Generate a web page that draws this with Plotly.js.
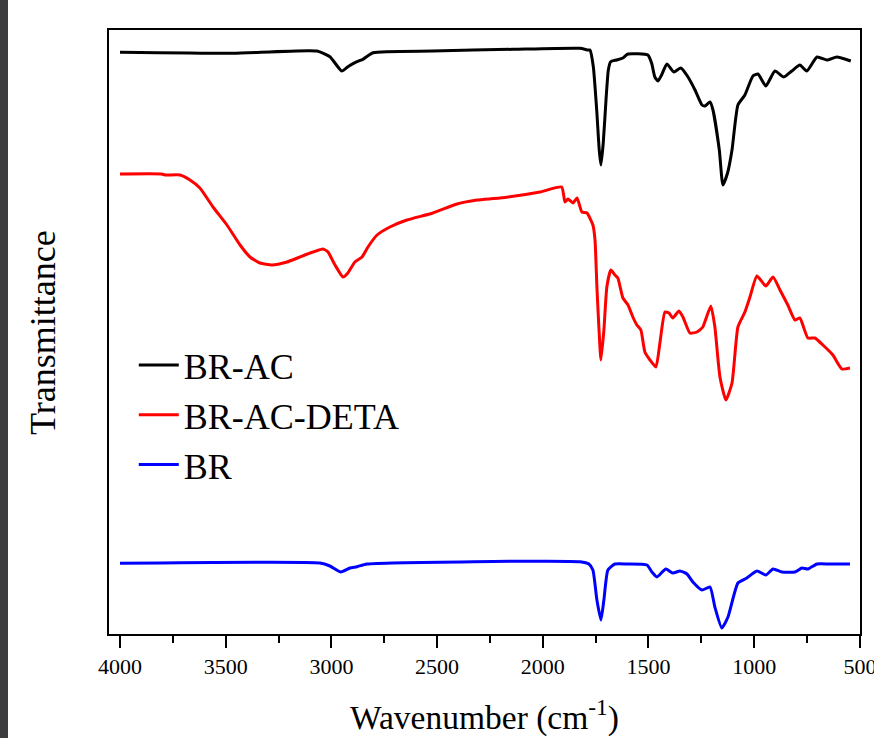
<!DOCTYPE html>
<html>
<head>
<meta charset="utf-8">
<script src="https://cdn.plot.ly/plotly-3.0.1.min.js"></script>
<style>
  html, body { margin: 0; padding: 0; background: #ffffff; overflow: hidden; }
  #strip { position: absolute; left: 0; top: 0; width: 8px; height: 738px; background: #3d3d40; z-index: 5; }
  #chart { width: 874px; height: 738px; }
</style>
</head>
<body>
<div id="strip"></div>
<div id="chart"></div>
<script>
// Wavenumbers (cm^-1) and transmittance (arbitrary offset units)
const brAcX = [4000, 3466, 3068, 3007, 2951, 2922, 2879, 2851, 2803, 2520, 2141, 1824, 1786, 1777, 1761, 1745, 1733, 1725, 1714, 1701, 1690, 1679, 1651, 1621, 1597, 1503, 1485, 1470, 1455, 1438, 1413, 1380, 1347, 1313, 1280, 1247, 1233, 1209, 1195, 1165, 1148, 1126, 1105, 1077, 1044, 1006, 982, 945, 902, 860, 822, 784, 751, 703, 656, 609, 543];
const brAcY = [581.7, 580.7, 583, 577.3, 563, 567.3, 572.3, 574.7, 581.3, 583, 584.7, 585.7, 584, 584, 567.3, 524, 484, 469, 491, 534, 564, 572.3, 574, 576, 580, 579, 570.7, 557, 553, 559, 570, 562, 566, 557, 544, 529, 528, 532, 524, 484, 449, 461, 484, 529, 539, 558, 560, 548, 563, 557, 563, 569, 563, 577, 574, 577, 573];

const brAcDetaX = [4000, 3803, 3787, 3716, 3669, 3622, 3560, 3494, 3432, 3385, 3338, 3281, 3210, 3149, 3087, 3040, 3016, 2983, 2945, 2922, 2889, 2855, 2827, 2784, 2723, 2643, 2520, 2406, 2311, 2203, 2013, 1911, 1895, 1881, 1857, 1838, 1815, 1791, 1763, 1753, 1744, 1734, 1725, 1711, 1697, 1678, 1659, 1645, 1621, 1597, 1574, 1555, 1536, 1517, 1493, 1465, 1446, 1422, 1403, 1385, 1356, 1337, 1304, 1271, 1243, 1205, 1186, 1162, 1134, 1105, 1077, 1044, 1020, 987, 945, 911, 878, 841, 807, 784, 746, 713, 675, 628, 585, 547];
const brAcDetaY = [460, 460, 459, 459, 454, 446, 427, 409, 389, 377, 371, 369, 372, 377, 382, 385, 382, 369, 357, 361, 372, 377, 387, 399, 407, 414, 421, 430, 434, 436, 442, 447, 432, 435, 431, 436, 422, 421, 409, 394, 347, 304, 274, 304, 347, 364, 359, 356, 336, 329, 317, 309, 304, 282, 274, 267, 291, 322, 321, 316, 323, 317, 301, 302, 307, 328, 307, 257, 234, 251, 307, 322, 337, 358, 348, 357, 344, 329, 314, 316, 296, 296, 289, 279, 265, 266];

const brX = [4000, 3054, 3007, 2955, 2912, 2879, 2832, 1824, 1782, 1763, 1744, 1725, 1711, 1692, 1659, 1602, 1507, 1484, 1460, 1418, 1385, 1351, 1318, 1290, 1247, 1209, 1186, 1153, 1124, 1077, 1035, 987, 945, 911, 869, 807, 774, 746, 703, 642, 547];
const brY = [70.7, 71, 68, 62, 66, 67.3, 70, 72.3, 70, 64, 34, 14, 34, 64, 70, 70, 69, 62, 57, 65, 61, 63, 60, 52, 44, 47, 27, 6, 17, 51, 56, 63, 59, 65, 62, 62, 66, 65, 70, 70, 70];

const xTickVals = [4000, 3500, 3000, 2500, 2000, 1500, 1000, 500];
const xTickText = ['4000', '3500', '3000', '2500', '2000', '1500', '1000', '500'];

const serif = 'Liberation Serif, Times New Roman, serif';

const traces = [
  {x: brAcX, y: brAcY, name: 'BR-AC', type: 'scatter', mode: 'lines',
   line: {color: '#000000', width: 3, shape: 'spline', smoothing: 0.5}},
  {x: brAcDetaX, y: brAcDetaY, name: 'BR-AC-DETA', type: 'scatter', mode: 'lines',
   line: {color: '#ff0000', width: 3, shape: 'spline', smoothing: 0.5}},
  {x: brX, y: brY, name: 'BR', type: 'scatter', mode: 'lines',
   line: {color: '#0000ff', width: 3, shape: 'spline', smoothing: 0.5}}
];

const layout = {
  width: 874, height: 738,
  margin: {l: 109, r: 14, t: 30, b: 104},
  paper_bgcolor: '#ffffff', plot_bgcolor: '#ffffff',
  font: {family: serif, color: '#000000'},
  showlegend: true,
  legend: {x: 0.033, xanchor: 'left', y: 0.495, yanchor: 'top',
           font: {family: serif, size: 36, color: '#000000'},
           bgcolor: 'rgba(0,0,0,0)', borderwidth: 0, itemwidth: 40},
  xaxis: {
    range: [4052, 499.5], tickvals: xTickVals, ticktext: xTickText,
    ticks: 'outside', ticklen: 12, tickwidth: 2, tickcolor: '#000',
    ticklabeloverflow: 'allow',
    minor: {dtick: 250, ticks: 'outside', ticklen: 7, tickwidth: 2, tickcolor: '#000'},
    showline: true, linecolor: '#000', linewidth: 2, mirror: true,
    showgrid: false, zeroline: false,
    tickfont: {family: 'Liberation Serif', size: 22, color: '#000'},
    title: {text: 'Wavenumber (cm<sup>-1</sup>)', font: {family: serif, size: 33.5, color: '#000'}, standoff: 27}
  },
  yaxis: {
    range: [0, 604], showticklabels: false, ticks: '',
    showline: true, linecolor: '#000', linewidth: 2, mirror: true,
    showgrid: false, zeroline: false
  },
  annotations: [{
    text: 'Transmittance', textangle: -90, xref: 'paper', yref: 'paper',
    x: -0.0879, y: 0.5, xanchor: 'center', yanchor: 'middle', showarrow: false,
    font: {family: serif, size: 36, color: '#000'}
  }]
};

Plotly.newPlot('chart', traces, layout, {displayModeBar: false, staticPlot: true});
</script>
</body>
</html>
